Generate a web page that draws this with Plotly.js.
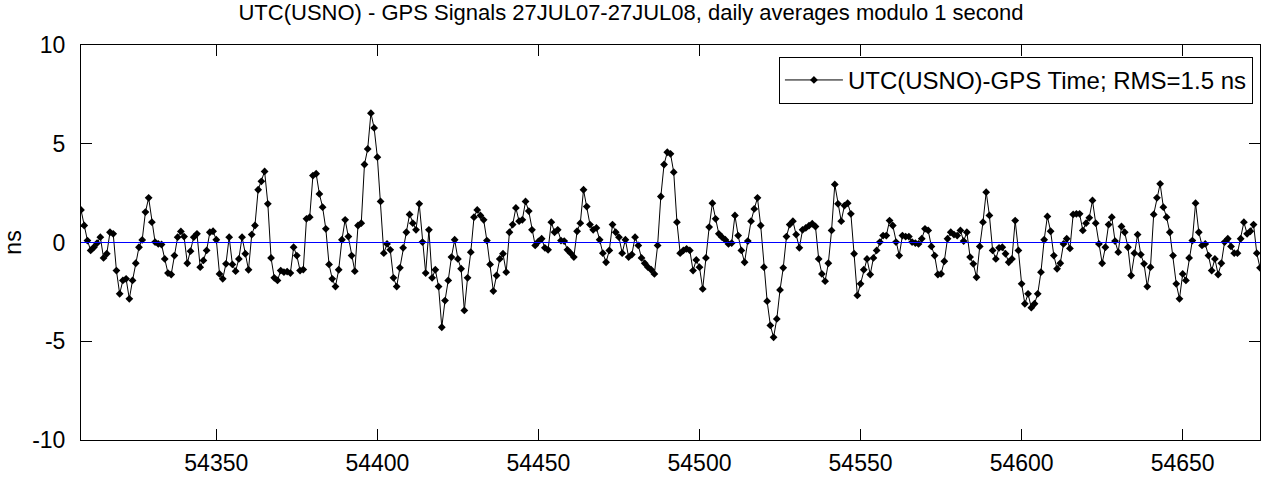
<!DOCTYPE html>
<html>
<head>
<meta charset="utf-8">
<script src="https://cdn.plot.ly/plotly-3.0.1.min.js"></script>
<style>
html,body{margin:0;padding:0;background:#fff;}
#chart{width:1262px;height:477px;}
</style>
</head>
<body>
<div id="chart"></div>
<script>
// First day of the series (MJD 54308 = 27 JUL 2007), one value per day
const startMJD = 54308;
// UTC(USNO) - GPS time, daily averages (ns)
const offsetNs = [
1.65, 0.86, 0.1, -0.4, -0.24, -0.03, 0.27, -0.78, -0.57, 0.52,
0.44, -1.42, -2.6, -1.92, -1.84, -2.85, -1.92, -1.05, -0.24, 0.13,
1.54, 2.26, 1.03, 0.02, -0.07, -0.1, -0.83, -1.55, -1.62, -0.66,
0.27, 0.56, 0.3, -1.05, -0.44, 0.27, 0.44, -1.25, -0.91, -0.4,
0.52, 0.57, 0.14, -1.59, -1.84, -1.08, 0.27, -1.11, -1.45, -0.83,
0.27, -0.57, -1.38, 0.4, 0.86, 2.67, 3.1, 3.6, 1.96, -0.78,
-1.79, -1.92, -1.42, -1.5, -1.47, -1.55, -0.24, -0.66, -1.42, -1.37,
1.2, 1.28, 3.39, 3.48, 2.46, 1.79, 0.69, -1.11, -1.84, -2.23,
-1.38, 0.14, 1.15, 0.3, -0.66, -1.45, 0.86, 0.98, 3.95, 4.74,
6.55, 5.8, 4.32, 2.08, -0.54, -0.07, -0.37, -1.79, -2.23, -1.28,
-0.27, 0.52, 1.42, 0.98, 0.64, 1.96, 0.02, -1.55, 0.64, -1.79,
-1.38, -2.23, -4.29, -2.94, -1.92, -0.74, 0.14, -0.83, -1.33, -3.44,
-1.79, -0.49, 1.28, 1.65, 1.37, 1.15, 0.1, -1.11, -2.46, -1.67,
-0.83, -0.57, -1.5, 0.52, 0.91, 1.75, 1.08, 1.15, 2.08, 1.59,
0.64, -0.15, 0.05, 0.19, -0.27, -0.37, 1.03, 0.52, 0.64, 0.1,
0.07, -0.37, -0.54, -0.74, 0.57, 0.98, 2.67, 1.82, 0.91, 0.64,
0.74, 0.14, -0.54, -1.0, -0.4, 0.91, 0.52, 0.27, -0.54, 0.14,
-0.74, -0.61, 0.27, -0.15, -0.78, -1.05, -1.25, -1.38, -1.59, -0.15,
2.33, 3.95, 4.57, 4.49, 3.56, 1.03, -0.54, -0.4, -0.32, -0.4,
-1.42, -0.88, -1.25, -2.35, -0.78, 0.78, 1.99, 1.2, 0.44, 0.27,
0.14, -0.07, -0.03, 1.37, 0.35, -0.4, -1.0, 0.07, 1.08, 1.7,
2.26, 0.86, -1.25, -2.97, -4.2, -4.8, -3.87, -2.4, -1.28, 0.3,
0.91, 1.08, 0.4, -0.27, 0.64, 0.74, 0.85, 0.95, 0.81, -0.83,
-1.59, -1.96, -1.05, 0.61, 2.94, 1.96, 1.08, 1.87, 1.99, 1.45,
-0.57, -2.68, -2.09, -1.38, -0.83, -1.62, -0.78, -0.4, 0.02, 0.35,
0.35, 1.11, 0.86, 0.02, -0.66, 0.35, 0.3, 0.3, 0.02, -0.03,
-0.07, 0.19, 0.69, 0.61, -0.2, -0.66, -1.62, -1.59, -0.95, 0.19,
0.52, 0.4, 0.35, 0.61, 0.07, 0.52, -0.74, -1.08, -1.76, -0.2,
1.03, 2.55, 1.37, -0.4, -0.83, -0.27, -0.24, -0.57, -1.0, -0.83,
1.11, -0.4, -2.09, -3.1, -2.6, -3.3, -3.1, -2.6, -1.5, 0.14,
1.32, 0.57, -0.66, -1.33, -1.05, -0.07, 0.19, -0.3, 1.42, 1.45, 1.45,
0.61, 0.98, 1.25, 2.13, 0.98, -0.07, -1.05, -0.24, 0.91, 1.28,
0.07, -0.49, 0.81, 0.52, -0.24, -1.67, -0.54, 0.4, -0.61, -1.08,
-2.23, -1.25, 1.42, 2.26, 2.97, 1.79, 1.28, 0.52, -0.66, -2.09,
-2.85, -1.59, -1.92, -0.78, 0.1, 1.99, 0.52, -0.15, -0.07, -0.66,
-1.42, -0.83, -1.62, -1.05, 0.02, 0.19, -0.2, -0.54, -0.54, 0.19,
1.03, 0.44, 0.57, 0.91, -0.54, -1.28
];
const xTicks = [54350, 54400, 54450, 54500, 54550, 54600, 54650];
const yTicks = [-10, -5, 0, 5, 10];
const seriesName = 'UTC(USNO)-GPS Time; RMS=1.5 ns';
const titleText = 'UTC(USNO) - GPS Signals 27JUL07-27JUL08, daily averages modulo 1 second';

const mjd = offsetNs.map((v, i) => startMJD + i);
const endMJD = mjd[mjd.length - 1];

const family = 'Liberation Sans, Arial, sans-serif';
const font = {family: family, size: 23, color: '#000'};

const traces = [{
  type: 'scatter', mode: 'lines+markers', name: seriesName,
  x: mjd, y: offsetNs,
  line: {color: '#000', width: 1},
  marker: {color: '#000', symbol: 'diamond', size: 6}
}];

const axisCommon = {
  showgrid: false, zeroline: false, showline: true, linecolor: '#000', linewidth: 1,
  mirror: 'ticks', ticks: 'inside', ticklen: 11, tickcolor: '#000', tickwidth: 1,
  tickfont: font
};

const layout = {
  width: 1262, height: 477,
  margin: {l: 81, r: 2, t: 45, b: 37},
  paper_bgcolor: '#fff', plot_bgcolor: '#fff',
  font: font,
  title: {text: titleText, font: {family: family, size: 22, color: '#000'}, x: 0.5, xanchor: 'center', y: 0.99, yanchor: 'top'},
  xaxis: Object.assign({}, axisCommon, {range: [startMJD, endMJD], tickvals: xTicks, ticktext: xTicks.map(String), ticklabelstandoff: 2}),
  yaxis: Object.assign({}, axisCommon, {range: [-10, 10], tickvals: yTicks, ticktext: yTicks.map(String), ticklabelstandoff: 10,
    title: {text: 'ns', font: font, standoff: 12}}),
  showlegend: true,
  legend: {x: 0.994, xanchor: 'right', y: 0.97, yanchor: 'top', bgcolor: '#fff',
    bordercolor: '#000', borderwidth: 1, font: {family: family, size: 24, color: '#000'},
    itemwidth: 58, tracegroupgap: 0},
  shapes: [{type: 'line', xref: 'paper', x0: 0, x1: 1, yref: 'y', y0: 0, y1: 0,
    line: {color: '#0000ff', width: 1}, layer: 'above'}]
};

Plotly.newPlot('chart', traces, layout, {displayModeBar: false, staticPlot: true});
</script>
</body>
</html>
